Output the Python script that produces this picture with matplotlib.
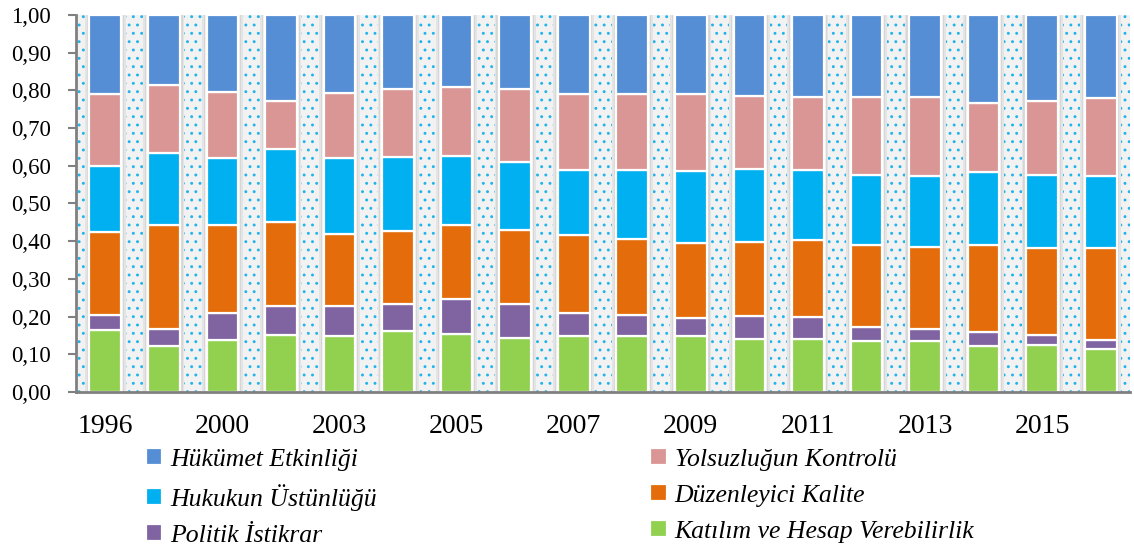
import matplotlib
matplotlib.use('Agg')
import matplotlib.pyplot as plt
import matplotlib.patches as patches
from matplotlib.ticker import MultipleLocator, FuncFormatter
import numpy as np

years = ['1996', '1998', '2000', '2002', '2003', '2004', '2005', '2006', '2007',
         '2008', '2009', '2010', '2011', '2012', '2013', '2014', '2015', '2016']

# segment values, bottom to top
katilim = [0.165, 0.122, 0.138, 0.152, 0.149, 0.163, 0.155, 0.144, 0.149,
           0.149, 0.149, 0.141, 0.141, 0.136, 0.136, 0.122, 0.125, 0.115]
politik = [0.040, 0.046, 0.072, 0.076, 0.080, 0.071, 0.092, 0.090, 0.061,
           0.056, 0.048, 0.061, 0.059, 0.037, 0.032, 0.038, 0.027, 0.024]
duzenleyici = [0.220, 0.275, 0.234, 0.224, 0.191, 0.194, 0.197, 0.196, 0.207,
               0.200, 0.199, 0.197, 0.204, 0.218, 0.217, 0.231, 0.231, 0.244]
hukuk = [0.175, 0.192, 0.177, 0.193, 0.201, 0.196, 0.183, 0.181, 0.173,
         0.185, 0.191, 0.193, 0.186, 0.185, 0.189, 0.193, 0.193, 0.191]
yolsuzluk = [0.190, 0.180, 0.176, 0.128, 0.173, 0.181, 0.183, 0.194, 0.201,
             0.201, 0.204, 0.194, 0.193, 0.207, 0.209, 0.183, 0.197, 0.207]
hukumet = [0.210, 0.185, 0.203, 0.227, 0.206, 0.195, 0.190, 0.195, 0.209,
           0.209, 0.209, 0.214, 0.217, 0.217, 0.217, 0.233, 0.227, 0.219]

series = [
    ('Katılım ve Hesap Verebilirlik', katilim, '#92D050'),
    ('Politik İstikrar', politik, '#8064A2'),
    ('Düzenleyici Kalite', duzenleyici, '#E46C0A'),
    ('Hukukun Üstünlüğü', hukuk, '#00B0F0'),
    ('Yolsuzluğun Kontrolü', yolsuzluk, '#D99694'),
    ('Hükümet Etkinliği', hukumet, '#558ED5'),
]

plt.rcParams['font.family'] = ['Liberation Serif', 'DejaVu Serif']
plt.rcParams['hatch.linewidth'] = 0.9

fig = plt.figure(figsize=(11.34, 5.51), dpi=100)
ax = fig.add_axes([0.067, 0.2886, 0.9295, 0.6842])

x = np.arange(len(years))

# dotted background
ax.set_facecolor('#f2f2f2')
bg = patches.Rectangle((-0.5, 0), len(years), 1.0, facecolor='none',
                       edgecolor='#1fb4ea', hatch='..', linewidth=0, zorder=0)
ax.add_patch(bg)

# soft gray columns behind the bars
ax.bar(x, 1.0, width=0.7, color='#e4e4e4', zorder=1, linewidth=0)
ax.bar(x, 1.0, width=0.64, color='#d6d6d6', zorder=1, linewidth=0)
ax.bar(x, 1.0, width=0.6, color='#f0f0f0', zorder=1, linewidth=0)

bottom = np.zeros(len(years))
handles = {}
for name, vals, color in series:
    bars = ax.bar(x, vals, bottom=bottom, width=0.54, color=color,
                  edgecolor='white', linewidth=1.6, zorder=3, label=name)
    handles[name] = bars
    bottom += np.array(vals)

ax.set_xlim(-0.5, len(years) - 0.5)
ax.set_ylim(0, 1.0)
ax.yaxis.set_major_locator(MultipleLocator(0.1))
ax.yaxis.set_major_formatter(FuncFormatter(lambda v, p: '{:.2f}'.format(v).replace('.', ',')))
ax.set_xticks(x)
ax.set_xticklabels([y if i % 2 == 0 else '' for i, y in enumerate(years)], fontsize=20)
ax.tick_params(axis='x', length=0, pad=16)
ax.tick_params(axis='y', labelsize=16.5, length=6, width=1.5, color='#808080', pad=12)

for s in ['top', 'right']:
    ax.spines[s].set_visible(False)
for s in ['left', 'bottom']:
    ax.spines[s].set_color('#808080')
    ax.spines[s].set_linewidth(2)
    ax.spines[s].set_zorder(5)

order = ['Hükümet Etkinliği', 'Hukukun Üstünlüğü', 'Politik İstikrar',
         'Yolsuzluğun Kontrolü', 'Düzenleyici Kalite', 'Katılım ve Hesap Verebilirlik']
leg = fig.legend([handles[n] for n in order], order, ncol=2, loc='upper left',
                 bbox_to_anchor=(0.117, 0.21), frameon=False,
                 prop={'style': 'italic', 'size': 18.5},
                 handlelength=0.65, handleheight=0.65, handletextpad=0.3,
                 labelspacing=0.52, columnspacing=10.65, borderpad=0)

fig.savefig('out.png', dpi=100)
